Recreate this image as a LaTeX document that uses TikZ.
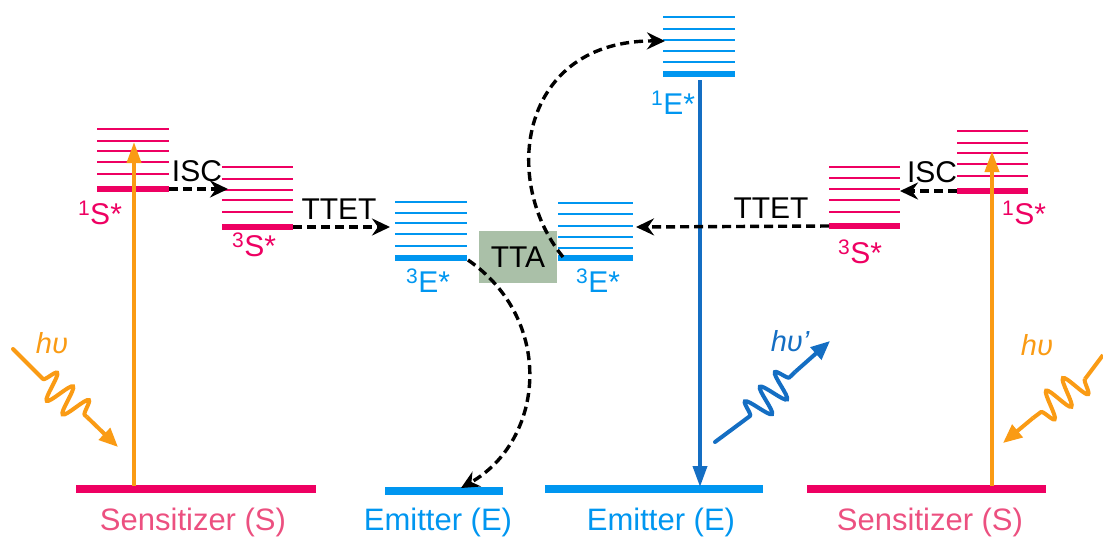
\documentclass[tikz,border=0pt]{standalone}
\usepackage{fontspec}
\setmainfont{Liberation Sans}
\usetikzlibrary{arrows.meta,decorations.pathmorphing}
\definecolor{spink}{RGB}{238,0,98}
\definecolor{slab}{RGB}{236,80,128}
\definecolor{eblue}{RGB}{0,150,240}
\definecolor{dblue}{RGB}{20,110,195}
\definecolor{porange}{RGB}{250,155,20}
\definecolor{ttagreen}{RGB}{170,192,168}
\begin{document}
\begin{tikzpicture}[x=1pt,y=-1pt,
  lvl/.style={line width=2pt},
  tlvl/.style={line width=6pt},
  gnd/.style={line width=7.5pt},
  lab/.style={font=\fontsize{30}{34}\selectfont, inner sep=0pt},
  blab/.style={font=\fontsize{31}{36}\selectfont, inner sep=0pt},
  dasharrow/.style={line width=3.4pt, dash pattern=on 9pt off 5pt, -{Stealth[length=18pt,width=17pt,inset=6pt]}},
  vert/.style={line width=3.8pt, -{Triangle[length=21pt,width=14pt]}},
  photon/.style={line width=4pt},
  wave/.style={line width=4pt, decorate, decoration={snake, amplitude=14pt, segment length=21pt}},
  photontip/.style={line width=4pt, -{Triangle[length=19pt,width=16pt]}}
]
\useasboundingbox (0,0) rectangle (1103,542);

% ---------- energy levels ----------
% left sensitizer 1S*
\foreach \yy in {129,141,151,162,174} \draw[lvl,spink] (97,\yy) -- (169,\yy);
\coordinate (s1La) at (97,189); \coordinate (s1Lb) at (169,189);
\draw[tlvl,spink] (s1La) -- (s1Lb);
% left sensitizer 3S*
\foreach \yy in {167,179,190,200,212} \draw[lvl,spink] (222,\yy) -- (293,\yy);
\coordinate (s3La) at (222,227); \coordinate (s3Lb) at (293,227);
\draw[tlvl,spink] (s3La) -- (s3Lb);
% left emitter 3E*
\foreach \yy in {202,213,223,234,246} \draw[lvl,eblue] (395,\yy) -- (467,\yy);
\coordinate (e3La) at (395,258); \coordinate (e3Lb) at (467,258);
\draw[tlvl,eblue] (e3La) -- (e3Lb);
% right emitter 3E*
\foreach \yy in {203,214,226,237,248} \draw[lvl,eblue] (558,\yy) -- (633,\yy);
\coordinate (e3Ra) at (558,258); \coordinate (e3Rb) at (633,258);
\draw[tlvl,eblue] (e3Ra) -- (e3Rb);
% emitter 1E*
\foreach \yy in {17,29,40,51,62} \draw[lvl,eblue] (663,\yy) -- (735,\yy);
\coordinate (e1a) at (663,74); \coordinate (e1b) at (735,74);
\draw[tlvl,eblue] (e1a) -- (e1b);
% right sensitizer 3S*
\foreach \yy in {167,178,189,200,212} \draw[lvl,spink] (829,\yy) -- (900,\yy);
\coordinate (s3Ra) at (829,226); \coordinate (s3Rb) at (900,226);
\draw[tlvl,spink] (s3Ra) -- (s3Rb);
% right sensitizer 1S*
\foreach \yy in {131,143,153,164,176} \draw[lvl,spink] (957,\yy) -- (1028,\yy);
\coordinate (s1Ra) at (957,191); \coordinate (s1Rb) at (1028,191);
\draw[tlvl,spink] (s1Ra) -- (s1Rb);

% ground states
\coordinate (gSLa) at (76,489);  \coordinate (gSLb) at (316,489);
\coordinate (gELa) at (385,491); \coordinate (gELb) at (503,491);
\coordinate (gERa) at (545,489); \coordinate (gERb) at (763,489);
\coordinate (gSRa) at (807,489); \coordinate (gSRb) at (1046,489);
\draw[gnd,spink] (gSLa) -- (gSLb);
\draw[gnd,eblue] (gELa) -- (gELb);
\draw[gnd,eblue] (gERa) -- (gERb);
\draw[gnd,spink] (gSRa) -- (gSRb);

% ---------- labels ----------
\node[lab,spink] (l1SL) at (100,213) {\textsuperscript{1}S*};
\node[lab,spink] (l3SL) at (254,245) {\textsuperscript{3}S*};
\node[lab,eblue] (l3EL) at (428,281) {\textsuperscript{3}E*};
\node[lab,eblue] (l3ER) at (598,281) {\textsuperscript{3}E*};
\node[lab,eblue] (l1E)  at (673,103) {\textsuperscript{1}E*};
\node[lab,spink] (l3SR) at (860,252) {\textsuperscript{3}S*};
\node[lab,spink] (l1SR) at (1024,213) {\textsuperscript{1}S*};

\node[blab,slab]  (sensL) at (193,522) {Sensitizer (S)};
\node[blab,eblue] (emL)   at (438,522) {Emitter (E)};
\node[blab,eblue] (emR)   at (661,522) {Emitter (E)};
\node[blab,slab]  (sensR) at (930,522) {Sensitizer (S)};

% TTA box
\node[lab, fill=ttagreen, minimum width=78pt, minimum height=52pt] (tta) at (518,257) {TTA};

% ---------- vertical transitions ----------
\coordinate (oLb) at (134,486); \coordinate (oLt) at (134,142);
\coordinate (oRb) at (992,486); \coordinate (oRt) at (992,151);
\coordinate (bT) at (700,80);   \coordinate (bB) at (700,487);
\draw[vert,porange] (oLb) -- (oLt);
\draw[vert,porange] (oRb) -- (oRt);
\draw[vert,dblue] (bT) -- (bB);

% ---------- dashed transfers ----------
\coordinate (iscLt) at (228,189);
\coordinate (ttetLt) at (390,227);
\coordinate (ttetRt) at (636,227);
\coordinate (iscRt) at (900,191);
\draw[dasharrow] (s1Lb) -- (iscLt);
\draw[dasharrow] (s3Lb) -- (ttetLt);
\draw[dasharrow] (s3Ra) -- (ttetRt);
\draw[dasharrow] (s1Ra) -- (iscRt);
\node[lab] (iscL) at (197,171) {ISC};
\node[lab] (ttetL) at (339,209) {TTET};
\node[lab] (ttetR) at (771,208) {TTET};
\node[lab] (iscR) at (932,172) {ISC};

% TTA curves
\coordinate (up0) at (563,257); \coordinate (up1) at (665,41);
\draw[dasharrow] (up0) .. controls (500,180) and (520,40) .. (up1);
\coordinate (dn0) at (468,260); \coordinate (dn1) at (461,488);
\draw[dasharrow] (dn0) .. controls (555,320) and (545,440) .. (dn1);

% ---------- photons ----------
% left
\coordinate (pL0) at (13,349); \coordinate (pL1) at (43,379);
\coordinate (pL2) at (87,417); \coordinate (pL3) at (118,447);
\draw[photon,porange,line cap=round] (pL0) -- (pL1);
\draw[wave,porange] (pL1) -- (pL2);
\draw[photontip,porange] (pL2) -- (pL3);
\node[lab,porange,font=\fontsize{29}{32}\selectfont\itshape] (hvL) at (52,343) {hυ};
% right
\coordinate (pR0) at (1103,355); \coordinate (pR1) at (1085,379);
\coordinate (pR2) at (1033,418); \coordinate (pR3) at (1003,443);
\draw[photon,porange] (pR0) -- (pR1);
\draw[wave,porange] (pR1) -- (pR2);
\draw[photontip,porange] (pR2) -- (pR3);
\node[lab,porange,font=\fontsize{29}{32}\selectfont\itshape] (hvR) at (1037,345) {hυ};
% emitted
\coordinate (pE0) at (715,442); \coordinate (pE1) at (750,416);
\coordinate (pE2) at (795,372); \coordinate (pE3) at (830,341);
\draw[photon,dblue,line cap=round] (pE0) -- (pE1);
\draw[wave,dblue] (pE1) -- (pE2);
\draw[photontip,dblue] (pE2) -- (pE3);
\node[lab,dblue,font=\fontsize{29}{32}\selectfont\itshape] (hvE) at (790,341) {hυ’};
\end{tikzpicture}
\end{document}
